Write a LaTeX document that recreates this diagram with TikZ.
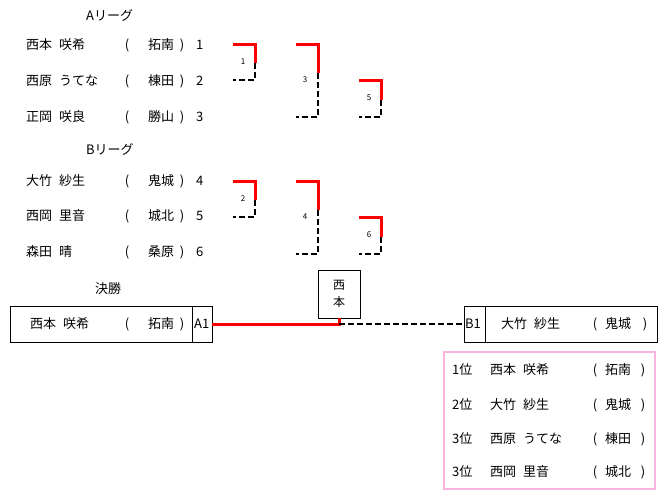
\documentclass[tikz,border=0pt]{standalone}
\usepackage{fontspec}
\setmainfont{Noto Sans CJK JP}
\newcommand{\gp}{\hspace{7pt}}
\begin{document}
\begin{tikzpicture}[
      x=1pt, y=-1pt,
      txt/.style={anchor=west, font=\fontsize{13}{15}\selectfont, inner sep=0pt},
      ctr/.style={font=\fontsize{13}{15}\selectfont, inner sep=0pt},
      num/.style={font=\fontsize{8}{9}\selectfont, inner sep=0pt},
      win/.style={red, line width=3pt},
      lose/.style={black, line width=2pt, dash pattern=on 6pt off 3pt},
      box/.style={draw, line width=0.8pt}
    ]
      \useasboundingbox (0,0) rectangle (664,498);
      % league titles
      \node[txt] (ta) at (86,15) {Aリーグ};
      \node[txt] (tb) at (86,149) {Bリーグ};
      \node[txt] (tf) at (95,289) {決勝};
      % players
      \foreach \n/\s/\i/\yy in {西本\gp 咲希/拓南/1/45, 西原\gp うてな/棟田/2/81, 正岡\gp 咲良/勝山/3/117,
                                大竹\gp 紗生/鬼城/4/181, 西岡\gp 里音/城北/5/216, 森田\gp 晴/桑原/6/252} {
        \node[txt] (p\i) at (26,\yy) {\n};
        \node[ctr] at (127,\yy) {(};
        \node[ctr] (s\i) at (161,\yy) {\s};
        \node[ctr] at (182,\yy) {)};
        \node[txt] (n\i) at (196,\yy) {\i};
      }
      % brackets
      \foreach \o/\a/\b/\c in {0/1/3/5, 137/2/4/6} {
        \draw[win] (233,44+\o) -- (255,44+\o) -- (255,63+\o);
        \draw[lose] (255,63+\o) -- (255,80+\o) -- (233,80+\o);
        \node[num] (m\a) at (243,62+\o) {\a};
        \draw[win] (296,44+\o) -- (318,44+\o) -- (318,73+\o);
        \draw[lose] (318,73+\o) -- (318,117+\o) -- (296,117+\o);
        \node[num] (m\b) at (305,80+\o) {\b};
        \draw[win] (359,80+\o) -- (381,80+\o) -- (381,100+\o);
        \draw[lose] (381,100+\o) -- (381,117+\o) -- (359,117+\o);
        \node[num] (m\c) at (369,98+\o) {\c};
      }
      % final
      \draw[box] (10,306) rectangle (212,342);
      \draw[box] (192,306) -- (192,342);
      \node[txt] at (30,324) {西本\gp 咲希};
      \node[ctr] at (127,324) {(};
      \node[ctr] at (161,324) {拓南};
      \node[ctr] at (182,324) {)};
      \node[txt] (a1) at (194,324) {A1};
      \draw[box] (464,306) rectangle (657,342);
      \draw[box] (485,306) -- (485,342);
      \node[txt] (b1) at (465,324) {B1};
      \node[txt] at (501,324) {大竹\gp 紗生};
      \node[ctr] at (595,324) {(};
      \node[ctr] at (618,324) {鬼城};
      \node[ctr] at (645,324) {)};
      \node[box, minimum width=42pt, minimum height=48pt, align=center,
            font=\fontsize{12}{17}\selectfont, inner sep=0pt] (w) at (339,294) {西\\本};
      \coordinate (j) at (339,324);
      \draw[win] (212,324) -- (j) -- (w.south);
      \draw[lose] (j) -- (464,324);
      % ranking
      \draw[magenta!30, line width=2pt] (444,352) rectangle (655,489);
      \foreach \r/\n/\s/\yy in {1位/西本\gp 咲希/拓南/370, 2位/大竹\gp 紗生/鬼城/405,
                                 3位/西原\gp うてな/棟田/439, 3位/西岡\gp 里音/城北/472} {
        \node[txt] at (452,\yy) {\r};
        \node[txt] at (490,\yy) {\n};
        \node[ctr] at (595,\yy) {(};
        \node[ctr] at (618,\yy) {\s};
        \node[ctr] at (643,\yy) {)};
      }
    \end{tikzpicture}
\end{document}
